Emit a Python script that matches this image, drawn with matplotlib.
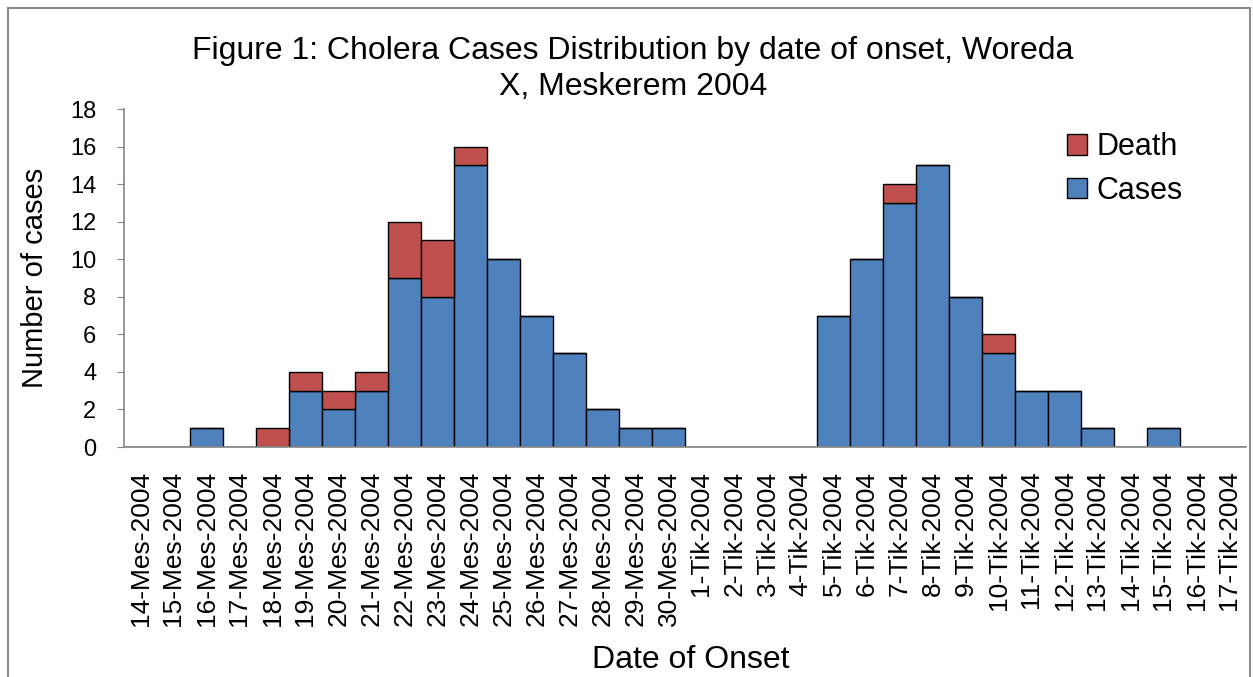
import matplotlib
matplotlib.use("Agg")
import matplotlib.pyplot as plt
from matplotlib.lines import Line2D
from matplotlib.patches import Patch

plt.rcParams['font.family'] = ['Liberation Sans', 'DejaVu Sans']

mes_days = list(range(14, 31))
tik_days = list(range(1, 18))
categories = [f"{d}-Mes-2004" for d in mes_days] + [f"{d}-Tik-2004" for d in tik_days]

cases = [0, 0, 1, 0, 0, 3, 2, 3, 9, 8, 15, 10, 7, 5, 2, 1, 1,
         0, 0, 0, 0, 7, 10, 13, 15, 8, 5, 3, 3, 1, 0, 1, 0, 0]
deaths = [0, 0, 0, 0, 1, 1, 1, 1, 3, 3, 1, 0, 0, 0, 0, 0, 0,
          0, 0, 0, 0, 0, 0, 1, 0, 0, 1, 0, 0, 0, 0, 0, 0, 0]

blue = '#4F81BD'
red = '#C0504D'

fig = plt.figure(figsize=(12.53, 6.77), dpi=100)
ax = fig.add_axes([124/1253, 1-447/677, (1246-124)/1253, (447-109)/677])

x = list(range(len(categories)))
ax.bar(x, cases, width=1.0, color=blue, edgecolor='black', linewidth=1.0, label='Cases')
ax.bar(x, deaths, width=1.0, bottom=cases, color=red, edgecolor='black', linewidth=1.0, label='Death')

ax.set_xlim(-0.5, len(categories) - 0.5)
ax.set_ylim(0, 18)
ax.set_yticks(range(0, 19, 2))
ax.set_xticks(x)
ax.set_xticklabels(categories, rotation=90, fontsize=19)
ax.tick_params(axis='x', length=0, pad=17)
ax.tick_params(axis='y', labelsize=17, length=5, color='#868686', direction='out', pad=15)

for s in ['top', 'right']:
    ax.spines[s].set_visible(False)
for s in ['left', 'bottom']:
    ax.spines[s].set_color('#868686')
    ax.spines[s].set_linewidth(1.2)

ax.set_ylabel('Number of cases', fontsize=21)
ax.yaxis.set_label_coords(35/1253, 1-278/677, transform=fig.transFigure)
ax.yaxis.label.set_verticalalignment('center')
ax.set_xlabel('Date of Onset', fontsize=23)
ax.xaxis.set_label_coords(691/1253, 1-660/677, transform=fig.transFigure)
ax.xaxis.label.set_verticalalignment('center')

fig.text(633/1253, 1-69/677, 'Figure 1: Cholera Cases Distribution by date of onset, Woreda\nX, Meskerem 2004',
         ha='center', va='center', fontsize=23, linespacing=1.25)

handles = [Patch(facecolor=red, edgecolor='black', linewidth=1.0),
           Patch(facecolor=blue, edgecolor='black', linewidth=1.0)]
leg = ax.legend(handles, ['Death', 'Cases'], loc='upper left', bbox_to_anchor=(1052/1253, 1-117/677),
                bbox_transform=fig.transFigure, frameon=False, fontsize=22,
                handlelength=0.65, handleheight=0.65, handletextpad=0.3, labelspacing=0.45, borderpad=0)

# figure border
border_color = '#8C8C8C'
fig.add_artist(Line2D([8/1253, 8/1253], [0, 1-8/677], transform=fig.transFigure, color=border_color, lw=1.5))
fig.add_artist(Line2D([8/1253, 1250/1253], [1-8/677, 1-8/677], transform=fig.transFigure, color=border_color, lw=1.5))
fig.add_artist(Line2D([1250/1253, 1250/1253], [0, 1-8/677], transform=fig.transFigure, color=border_color, lw=1.5))

fig.savefig('out.png', dpi=100)
